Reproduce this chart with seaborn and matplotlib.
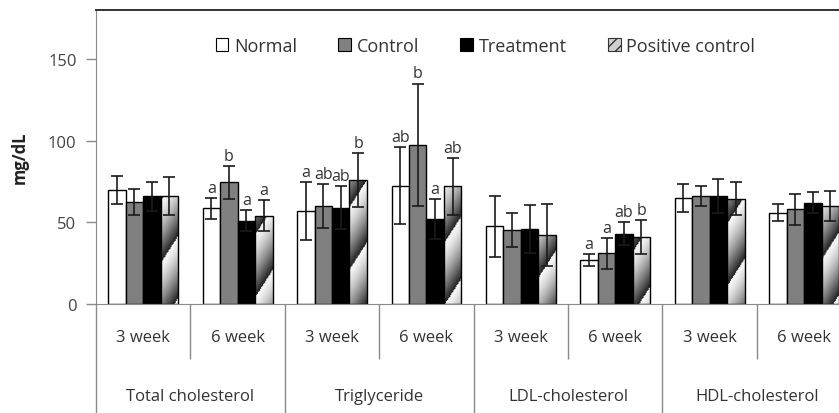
import matplotlib
matplotlib.use("Agg")
import matplotlib.pyplot as plt
from matplotlib.patches import Patch
import numpy as np
import pandas as pd
import seaborn as sns

categories = ["Total cholesterol", "Triglyceride", "LDL-cholesterol", "HDL-cholesterol"]
weeks = ["3 week", "6 week"]
groups = ["Normal", "Control", "Treatment", "Positive control"]

normal_mean = [70, 58.5, 57, 72.5, 47.5, 27, 65, 56]
normal_sd = [8.5, 6.5, 17.7, 23.5, 18.5, 3.5, 8.5, 5]
control_mean = [62.5, 74.5, 60, 97.5, 45.5, 31, 66, 58]
control_sd = [8, 10, 13.7, 37.5, 10.5, 9.5, 6, 9.5]
treatment_mean = [66, 51, 59, 52, 46, 43, 66, 62]
treatment_sd = [9, 6.5, 13.3, 12, 14.5, 7, 10.5, 6.5]
positive_mean = [66, 54, 76, 72, 42, 41, 64.5, 60]
positive_sd = [11.5, 9.5, 16.5, 17.5, 19, 10.5, 10, 9]

# significance letters, per group (Normal, Control, Treatment, Positive)
letters = [
    ["", "", "", ""],
    ["a", "b", "a", "a"],
    ["a", "ab", "ab", "b"],
    ["ab", "b", "a", "ab"],
    ["", "", "", ""],
    ["a", "a", "ab", "b"],
    ["", "", "", ""],
    ["", "", "", ""],
]

keys = [f"{c} {w}" for c in categories for w in weeks]
means = [normal_mean, control_mean, treatment_mean, positive_mean]
sds = [normal_sd, control_sd, treatment_sd, positive_sd]

rows = []
for g, m in zip(groups, means):
    for k, v in zip(keys, m):
        rows.append({"key": k, "group": g, "value": v})
df = pd.DataFrame(rows)

sns.set_style("white")
plt.rcParams["font.family"] = ["Open Sans", "DejaVu Sans"]
txt = "#333333"
axc = "#8a8a8a"

fig = plt.figure(figsize=(8.39, 4.14), dpi=100)
ax = fig.add_axes([96 / 839, 109 / 414, 743 / 839, 294 / 414])

palette = {"Normal": "white", "Control": "#808080", "Treatment": "black", "Positive control": "white"}
sns.barplot(data=df, x="key", y="value", hue="group", order=keys, hue_order=groups,
            palette=palette, width=0.74, edgecolor="black", linewidth=1.0,
            errorbar=None, legend=False, ax=ax)
bars = list(ax.containers)

xlim = (-0.5, 7.37)
ylim = (0, 180)

# gradient with diagonal bands for the positive control bars
H, W = 294, 743
yp, xp = np.mgrid[0:H, 0:W]
phase = ((1.6 * xp - yp) / 62.0) % 1.0
shade = 0.97 - 0.85 * phase ** 1.4
for patch in bars[3]:
    patch.set_facecolor("none")
    patch.set_zorder(2)
    im = ax.imshow(shade, cmap="gray", vmin=0, vmax=1, origin="lower", aspect="auto",
                   extent=(xlim[0], xlim[1], ylim[0], ylim[1]), zorder=1, interpolation="bilinear")
    im.set_clip_path(patch)

# error bars and letters
for i, cont in enumerate(bars):
    xs = [p.get_x() + p.get_width() / 2 for p in cont]
    ax.errorbar(xs, means[i], yerr=sds[i], fmt="none", ecolor="#1a1a1a",
                elinewidth=1.2, capsize=4, capthick=1.2, zorder=3)
    for j, x in enumerate(xs):
        lab = letters[j][i]
        if lab:
            ax.annotate(lab, (x, means[i][j] + sds[i][j]), xytext=(0, 1.5),
                        textcoords="offset points", ha="center", va="bottom",
                        fontsize=11.5, color=txt)

ax.set_xlim(*xlim)
ax.set_ylim(*ylim)
ax.set_yticks([0, 50, 100, 150])
ax.set_xticks(range(len(keys)))
ax.set_xticklabels(weeks * len(categories))
ax.tick_params(axis="x", length=0, pad=18, labelsize=12, labelcolor=txt)
ax.tick_params(axis="y", length=7, width=1, color=axc, pad=7, labelsize=12, labelcolor="#444444", left=True)
ax.set_xlabel("")
ax.set_ylabel("mg/dL", fontsize=12, fontweight="bold", color="#222222", labelpad=14)

ax.spines["right"].set_visible(False)
ax.spines["top"].set_color("#333333")
ax.spines["top"].set_linewidth(1.4)
ax.spines["left"].set_color(axc)
ax.spines["bottom"].set_color(axc)

# category axis dividers and labels
tr = ax.get_xaxis_transform()
ax.vlines([0.5, 2.5, 4.5, 6.5], -55 / 294, 0, transform=tr, clip_on=False, color=axc, lw=1)
ax.vlines([-0.5, 1.5, 3.5, 5.5], -110 / 294, 0, transform=tr, clip_on=False, color=axc, lw=1)
for k, c in enumerate(categories):
    ax.text(2 * k + 0.5, -92 / 294, c, transform=tr, ha="center", va="center", fontsize=12, color=txt)

handles = [
    Patch(facecolor="white", edgecolor="black", lw=0.8),
    Patch(facecolor="#808080", edgecolor="black", lw=0.8),
    Patch(facecolor="black", edgecolor="black", lw=0.8),
    Patch(facecolor="#d0d0d0", edgecolor="#333333", hatch="///", lw=0.8),
]
ax.legend(handles, groups, loc="center", bbox_to_anchor=(0.524, 0.878), ncol=4, frameon=False,
          fontsize=13, handlelength=0.7, handleheight=0.7, handletextpad=0.3, columnspacing=2.3,
          labelcolor=txt)

fig.savefig("out.png", dpi=100)
